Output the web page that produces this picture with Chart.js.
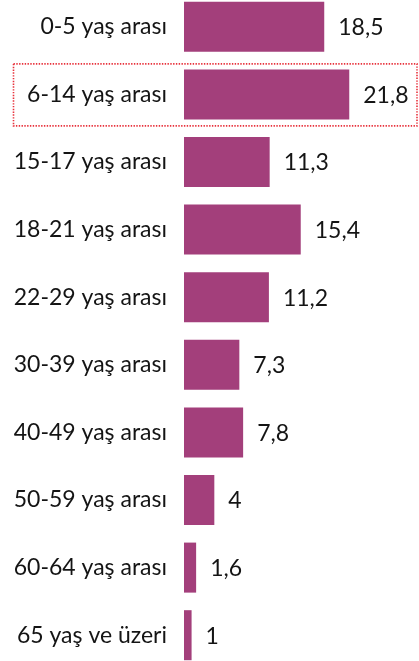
<!DOCTYPE html>
<html lang="tr">
<head>
<meta charset="utf-8">
<title>Yaş gruplarına göre dağılım</title>
<script src="https://cdn.jsdelivr.net/npm/chart.js@4/dist/chart.umd.min.js"></script>
<style>
  html, body { margin: 0; padding: 0; background: #fff; overflow: hidden; }
  #wrap { position: relative; width: 419px; height: 661px; overflow: hidden; }
  #wrap canvas { position: absolute; left: 0; top: -7px; }
</style>
</head>
<body>
<div id="wrap"><canvas id="chart" width="419" height="676"></canvas></div>
<script>
// ── Data ──────────────────────────────────────────────────────────────────────
const ageGroups = [
  '0-5 yaş arası', '6-14 yaş arası', '15-17 yaş arası', '18-21 yaş arası',
  '22-29 yaş arası', '30-39 yaş arası', '40-49 yaş arası', '50-59 yaş arası',
  '60-64 yaş arası', '65 yaş ve üzeri'
];
const shares = [18.5, 21.8, 11.3, 15.4, 11.2, 7.3, 7.8, 4, 1.6, 1];
const highlighted = ['6-14 yaş arası'];

const BAR = '#a33f7b';
const FONT = 'Lato, "Open Sans", sans-serif';
const fmt = v => String(v).replace('.', ',');

// value labels to the right of each bar + dotted frame round highlighted rows
const barExtras = {
  id: 'barExtras',
  afterDatasetsDraw(chart) {
    const { ctx } = chart;
    const meta = chart.getDatasetMeta(0);
    ctx.save();
    ctx.font = `23px ${FONT}`;
    ctx.fillStyle = '#141414';
    ctx.textAlign = 'left';
    ctx.textBaseline = 'middle';
    meta.data.forEach((bar, i) => {
      ctx.fillText(fmt(shares[i]), bar.x + 14, bar.y + 1);
    });

    ctx.strokeStyle = '#e8323c';
    ctx.lineWidth = 1.6;
    ctx.setLineDash([1.4, 1.4]);
    highlighted.forEach(label => {
      const bar = meta.data[ageGroups.indexOf(label)];
      if (!bar) return;
      const top = bar.y - bar.height / 2 - 6;
      const h = bar.height + 12;
      ctx.strokeRect(13.5, top + 0.5, chart.width - 15.5, h);
    });
    ctx.restore();
  }
};

new Chart(document.getElementById('chart'), {
  type: 'bar',
  data: {
    labels: ageGroups,
    datasets: [{
      data: shares,
      backgroundColor: BAR,
      borderWidth: 0,
      barPercentage: 0.74,
      categoryPercentage: 1,
    }]
  },
  options: {
    indexAxis: 'y',
    responsive: false,
    animation: false,
    layout: { padding: 0 },
    plugins: { legend: { display: false }, tooltip: { enabled: false } },
    scales: {
      x: { display: false, min: 0, max: 31 },
      y: {
        afterFit(scale) {
          scale.width = 184;
          scale.paddingTop = 0;
          scale.paddingBottom = 0;
        },
        border: { display: false },
        grid: { display: false, drawTicks: false },
        ticks: {
          padding: 17,
          color: '#141414',
          font: { family: FONT, size: 23 },
        }
      }
    }
  },
  plugins: [barExtras]
});
</script>
</body>
</html>
